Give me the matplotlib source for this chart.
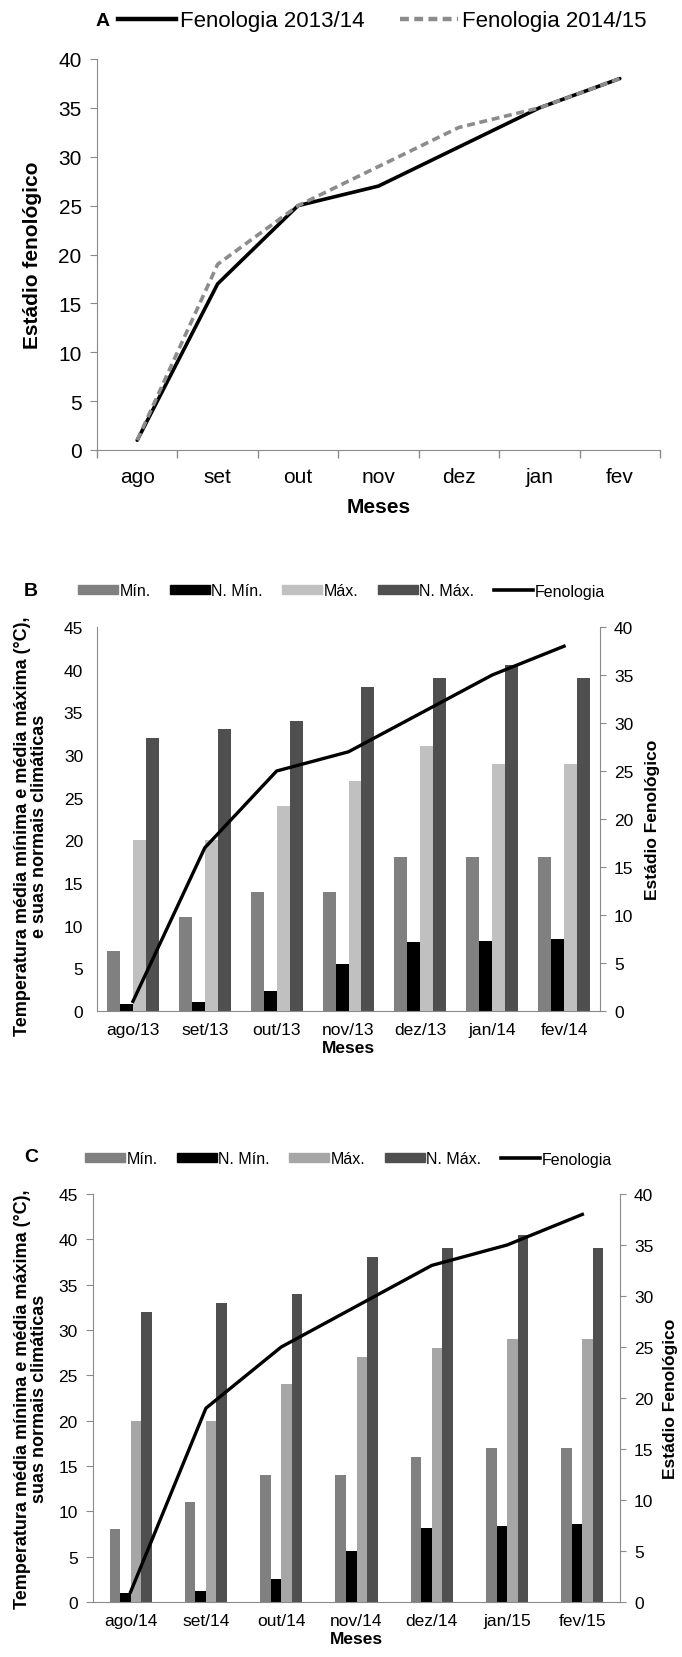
import matplotlib
matplotlib.use("Agg")
import matplotlib.pyplot as plt
import numpy as np
from matplotlib.lines import Line2D
from matplotlib.patches import Patch

plt.rcParams['font.family'] = ['Liberation Sans', 'DejaVu Sans']

# ---------------- data ----------------
meses_a = ['ago', 'set', 'out', 'nov', 'dez', 'jan', 'fev']
fen_1314 = [1, 17, 25, 27, 31, 35, 38]
fen_1415 = [1, 19, 25, 29, 33, 35, 38]

meses_b = ['ago/13', 'set/13', 'out/13', 'nov/13', 'dez/13', 'jan/14', 'fev/14']
min_b = [7, 11, 14, 14, 18, 18, 18]
nmin_b = [0.8, 1.0, 2.4, 5.5, 8.1, 8.2, 8.4]
max_b = [20, 20, 24, 27, 31, 29, 29]
nmax_b = [32, 33, 34, 38, 39, 40.5, 39]

meses_c = ['ago/14', 'set/14', 'out/14', 'nov/14', 'dez/14', 'jan/15', 'fev/15']
min_c = [8, 11, 14, 14, 16, 17, 17]
nmin_c = [1.0, 1.2, 2.5, 5.6, 8.2, 8.4, 8.6]
max_c = [20, 20, 24, 27, 28, 29, 29]
nmax_c = [32, 33, 34, 38, 39, 40.5, 39]

W, H = 682, 1658
fig = plt.figure(figsize=(W / 100, H / 100), dpi=100)

def ax_rect(l, r, t, b):
    return [l / W, 1 - b / H, (r - l) / W, (b - t) / H]

SP = '#8a8a8a'

# ---------------- Panel A ----------------
axA = fig.add_axes(ax_rect(97, 660, 60, 451))
x = np.arange(len(meses_a))
axA.plot(x, fen_1314, color='black', lw=2.6, solid_capstyle='round')
axA.plot(x, fen_1415, color='#8c8c8c', lw=2.6, ls=(0, (2.2, 1.3)))
axA.set_xlim(-0.5, 6.5)
axA.set_ylim(0, 40)
axA.set_yticks(range(0, 41, 5))
axA.set_xticks(x)
axA.set_xticklabels(meses_a)
axA.set_xticks(np.arange(-0.5, 7, 1), minor=True)
axA.tick_params(axis='x', which='major', length=0, pad=12, labelsize=15)
axA.tick_params(axis='x', which='minor', length=6, color=SP, width=1)
axA.tick_params(axis='y', length=5, color=SP, labelsize=15, pad=6)
for s in ['top', 'right']:
    axA.spines[s].set_visible(False)
for s in ['left', 'bottom']:
    axA.spines[s].set_color(SP)
axA.set_xlabel('Meses', fontsize=15, fontweight='bold', labelpad=8)
axA.set_ylabel('Estádio fenológico', fontsize=15, fontweight='bold', labelpad=12)
fig.text(96 / W, 1 - 22 / H, 'A', fontsize=14, fontweight='bold', va='center')
hA = [Line2D([], [], color='black', lw=3.2),
      Line2D([], [], color='#8c8c8c', lw=3.2, ls=(0, (2.0, 1.2)))]
fig.legend(hA, ['Fenologia 2013/14', 'Fenologia 2014/15'], loc='center left',
           bbox_to_anchor=(118 / W, 1 - 22 / H), ncol=2, frameon=False,
           fontsize=16, handlelength=2.6, handletextpad=0.2, columnspacing=1.6,
           borderaxespad=0, borderpad=0)

# ---------------- Panels B and C ----------------
def bar_panel(rect, meses, vmin, vnmin, vmax, vnmax, fen, maxcol, bw,
              letter, leg_x, leg_y, letter_y, rlab_x, ylab_x, ylab_y, lticks, ylab2):
    ax = fig.add_axes(rect)
    xx = np.arange(len(meses))
    cols = ['#808080', '#000000', maxcol, '#4f4f4f']
    labs = ['Mín.', 'N. Mín.', 'Máx.', 'N. Máx.']
    for i, (vals, c) in enumerate(zip([vmin, vnmin, vmax, vnmax], cols)):
        ax.bar(xx + (i - 1.5) * bw, vals, width=bw, color=c, zorder=2)
    ax.set_xlim(-0.5, 6.5)
    ax.set_ylim(0, 45)
    ax.set_yticks(range(0, 46, 5))
    ax.set_xticks(xx)
    ax.set_xticklabels(meses)
    ax.tick_params(axis='x', length=0, pad=8, labelsize=12.5)
    ax.tick_params(axis='y', length=lticks, color=SP, labelsize=12.5,
                   pad=10 if lticks == 0 else 6)
    ax.spines['top'].set_visible(False)
    ax.spines['right'].set_visible(False)
    for s in ['left', 'bottom']:
        ax.spines[s].set_color(SP)
    ax.set_xlabel('Meses', fontsize=12.5, fontweight='bold', labelpad=2)
    ax2 = ax.twinx()
    ax2.plot(xx, fen, color='black', lw=2.4, zorder=3)
    ax2.set_ylim(0, 40)
    ax2.set_yticks(range(0, 41, 5))
    ax2.tick_params(axis='y', length=4, color=SP, labelsize=12.5, pad=6)
    ax2.spines['top'].set_visible(False)
    ax2.spines['left'].set_visible(False)
    ax2.spines['bottom'].set_visible(False)
    ax2.spines['right'].set_color(SP)
    fig.text(ylab_x / W, 1 - ylab_y / H,
             'Temperatura média mínima e média máxima (°C),\n' + ylab2,
             rotation=90, ha='center', va='center', fontsize=13,
             fontweight='bold', linespacing=1.0)
    fig.text(rlab_x / W, rect[1] + rect[3] / 2, 'Estádio Fenológico',
             rotation=90, ha='center', va='center', fontsize=12.5, fontweight='bold')
    fig.text(24 / W, 1 - letter_y / H, letter, fontsize=14, fontweight='bold', va='center')
    handles = [Patch(color=c) for c in cols] + [Line2D([], [], color='black', lw=2.6)]
    fig.legend(handles, labs + ['Fenologia'], loc='center left',
               bbox_to_anchor=(leg_x / W, 1 - leg_y / H), ncol=5, frameon=False,
               fontsize=11.5, handlelength=2.5, handleheight=0.5, handletextpad=0.1,
               columnspacing=1.2, borderaxespad=0, borderpad=0)
    return ax, ax2

bar_panel(ax_rect(97, 600, 628, 1012), meses_b, min_b, nmin_b, max_b, nmax_b,
          fen_1314, '#c0c0c0', 0.18, 'B', 78, 592, 592, 652, 31, 826, 0,
          'e suas normais climáticas')
bar_panel(ax_rect(93, 620, 1195, 1603), meses_c, min_c, nmin_c, max_c, nmax_c,
          fen_1415, '#a6a6a6', 0.14, 'C', 85, 1160, 1158, 670, 31, 1399, 5,
          'suas normais climáticas')

fig.savefig('out.png', dpi=100)
